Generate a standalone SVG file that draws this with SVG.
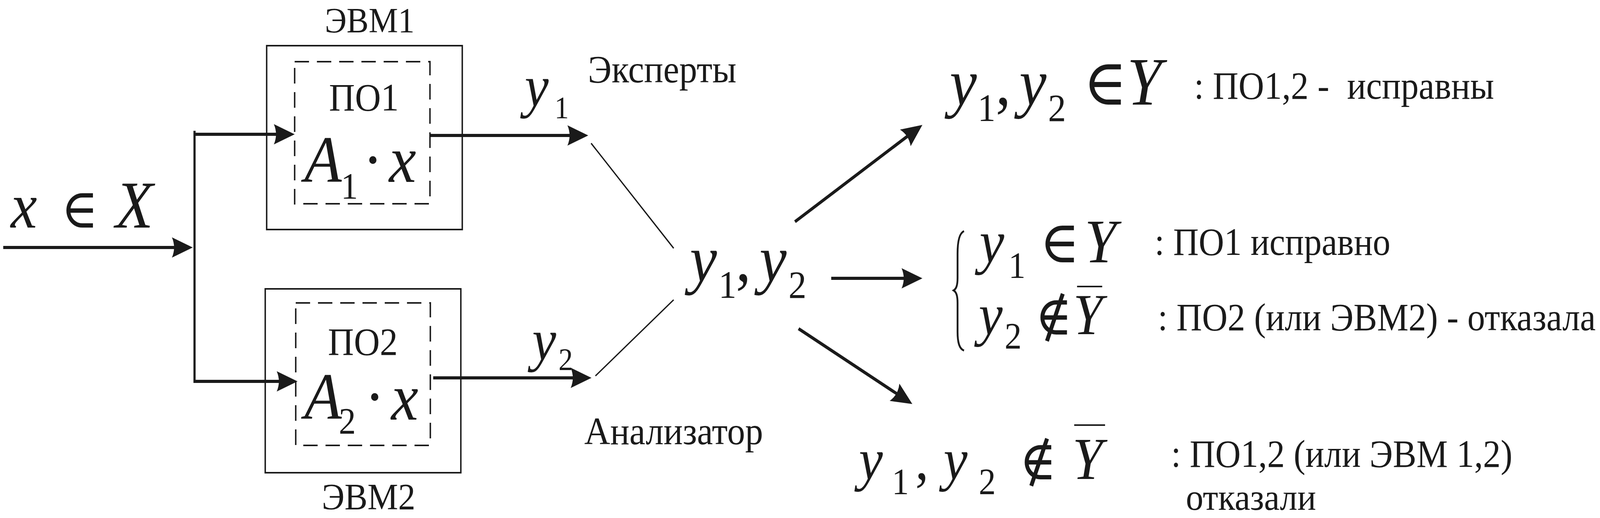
<svg xmlns="http://www.w3.org/2000/svg" width="4458" height="1327" viewBox="0 0 4458 1327" preserveAspectRatio="none">
<style>
:root{width:100%;height:100%}
.bg{fill:#ffffff}
.box{fill:none;stroke:#1a1a1a;stroke-width:4}
.dash{fill:none;stroke:#1a1a1a;stroke-width:4;stroke-dasharray:40 22}
.thick{fill:none;stroke:#1a1a1a;stroke-width:8}
.thin{fill:none;stroke:#1a1a1a;stroke-width:3.5}
.vert{fill:none;stroke:#1a1a1a;stroke-width:6}
.bar{fill:none;stroke:#1a1a1a;stroke-width:4}
.brace{fill:none;stroke:#1a1a1a;stroke-width:5}
.t{font-family:"Liberation Serif","Times New Roman","DejaVu Serif",serif;fill:#1a1a1a}
.i{font-style:italic}
.lbl{font-size:100px}
.pre{white-space:pre}
</style>
<defs>
<marker id="ah" markerUnits="userSpaceOnUse" orient="auto" viewBox="-60 -30 62 60" markerWidth="62" markerHeight="60" refX="-40" refY="0">
<path d="M0,0 L-58,-26 Q-46,0 -58,26 Z" fill="#1a1a1a"/>
</marker>
</defs>
<rect class="bg" x="0" y="0" width="4458" height="1327"/>

<g id="connectors">
<path class="thick" d="M9,634 H497" marker-end="url(#ah)"/>
<path class="vert" d="M542,335 V981"/>
<path class="thick" d="M542,344 H781" marker-end="url(#ah)"/>
<path class="thick" d="M542,977 H789" marker-end="url(#ah)"/>
<path class="thick" d="M1198,347 H1599" marker-end="url(#ah)"/>
<path class="thick" d="M1207,968 H1608" marker-end="url(#ah)"/>
<path class="thin" d="M1647,367 L1877,636"/>
<path class="thin" d="M1659,963 L1877,768"/>
<path class="thick" d="M2215,568 L2537.2,342.9" marker-end="url(#ah)"/>
<path class="thick" d="M2316,713 H2530" marker-end="url(#ah)"/>
<path class="thick" d="M2225,842 L2507.8,1014.2" marker-end="url(#ah)"/>
</g>

<g id="input">
<text class="t i" font-size="165" x="30" y="583">x</text>
<text class="t" font-size="140" x="170" y="583">∈</text>
<text class="t i" font-size="172" x="322" y="583">X</text>
</g>

<g id="evm1">
<rect class="box" x="743" y="117" width="545" height="471"/>
<rect class="dash" x="821" y="158" width="377" height="364"/>
<text class="t" font-size="92" x="1030" y="83" text-anchor="middle">ЭВМ1</text>
<text class="t" font-size="100" x="1014" y="283" text-anchor="middle">ПО1</text>
<text class="t i" font-size="170" x="848" y="466">A</text>
<text class="t" font-size="95" x="950" y="509">1</text>
<text class="t" font-size="170" x="1039" y="466" text-anchor="middle">·</text>
<text class="t i" font-size="170" x="1084" y="466">x</text>
</g>

<g id="evm2">
<rect class="box" x="739" y="740" width="545" height="471"/>
<rect class="dash" x="824" y="776" width="375" height="365"/>
<text class="t" font-size="96" x="1027" y="1305" text-anchor="middle">ЭВМ2</text>
<text class="t" font-size="100" x="1011" y="909" text-anchor="middle">ПО2</text>
<text class="t i" font-size="170" x="848" y="1073">A</text>
<text class="t" font-size="95" x="944" y="1111">2</text>
<text class="t" font-size="170" x="1044" y="1073" text-anchor="middle">·</text>
<text class="t i" font-size="170" x="1090" y="1075">x</text>
</g>

<g id="y1label">
<text class="t i" font-size="150" x="1462" y="272">y</text>
<text class="t" font-size="80" x="1545" y="303">1</text>
</g>
<g id="y2label">
<text class="t i" font-size="150" x="1483" y="922">y</text>
<text class="t" font-size="80" x="1556" y="948">2</text>
</g>

<g id="experts">
<text class="t lbl" x="1638" y="211">Эксперты</text>
</g>
<g id="analyzer">
<text class="t lbl" x="1628" y="1138">Анализатор</text>
</g>

<g id="center">
<text class="t i" font-size="170" x="1922" y="720">y</text>
<text class="t" font-size="100" x="2002" y="763">1</text>
<text class="t" font-size="170" x="2050" y="720">,</text>
<text class="t i" font-size="170" x="2116" y="720">y</text>
<text class="t" font-size="100" x="2197" y="763">2</text>
</g>

<g id="case1">
<text class="t i" font-size="170" x="2646" y="268">y</text>
<text class="t" font-size="100" x="2724" y="310">1</text>
<text class="t" font-size="170" x="2774" y="268">,</text>
<text class="t i" font-size="170" x="2840" y="268">y</text>
<text class="t" font-size="100" x="2920" y="310">2</text>
<text class="t" font-size="165" x="3018" y="268">∈</text>
<text class="t i" font-size="174" x="3140" y="268">Y</text>
<text class="t lbl pre" x="3327" y="253" textLength="836" lengthAdjust="spacingAndGlyphs">: ПО1,2 -  исправны</text>
</g>

<g id="case2">
<path class="brace" d="M2686,592 C2673,597 2668,620 2668,650 L2668,712 C2668,732 2664,740 2657,744 C2664,748 2668,756 2668,776 L2668,850 C2668,878 2673,894 2686,898"/>
<text class="t i" font-size="155" x="2729" y="672">y</text>
<text class="t" font-size="95" x="2810" y="712">1</text>
<text class="t" font-size="150" x="2897" y="672">∈</text>
<text class="t i" font-size="160" x="3022" y="672">Y</text>
<text class="t lbl pre" x="3217" y="653" textLength="657" lengthAdjust="spacingAndGlyphs">: ПО1 исправно</text>
<text class="t i" font-size="150" x="2727" y="857">y</text>
<text class="t" font-size="95" x="2799" y="893">2</text>
<text class="t" font-size="140" x="2884" y="857">∉</text>
<text class="t i" font-size="148" x="2990" y="856">Y</text>
<path class="bar" d="M3001,734 H3071"/>
<text class="t lbl pre" x="3226" y="846" textLength="1220" lengthAdjust="spacingAndGlyphs">: ПО2 (или ЭВМ2) - отказала</text>
</g>

<g id="case3">
<text class="t i" font-size="150" x="2393" y="1228">y</text>
<text class="t" font-size="95" x="2485" y="1266">1</text>
<text class="t" font-size="150" x="2550" y="1228">,</text>
<text class="t i" font-size="150" x="2629" y="1228">y</text>
<text class="t" font-size="95" x="2727" y="1266">2</text>
<text class="t" font-size="140" x="2840" y="1228">∉</text>
<text class="t i" font-size="152" x="2988" y="1227">Y</text>
<path class="bar" d="M2993,1089 H3079"/>
<text class="t lbl pre" x="3263" y="1196" textLength="951" lengthAdjust="spacingAndGlyphs">: ПО1,2 (или ЭВМ 1,2)</text>
<text class="t" font-size="96" x="3304" y="1306" textLength="363" lengthAdjust="spacingAndGlyphs">отказали</text>
</g>
</svg>
